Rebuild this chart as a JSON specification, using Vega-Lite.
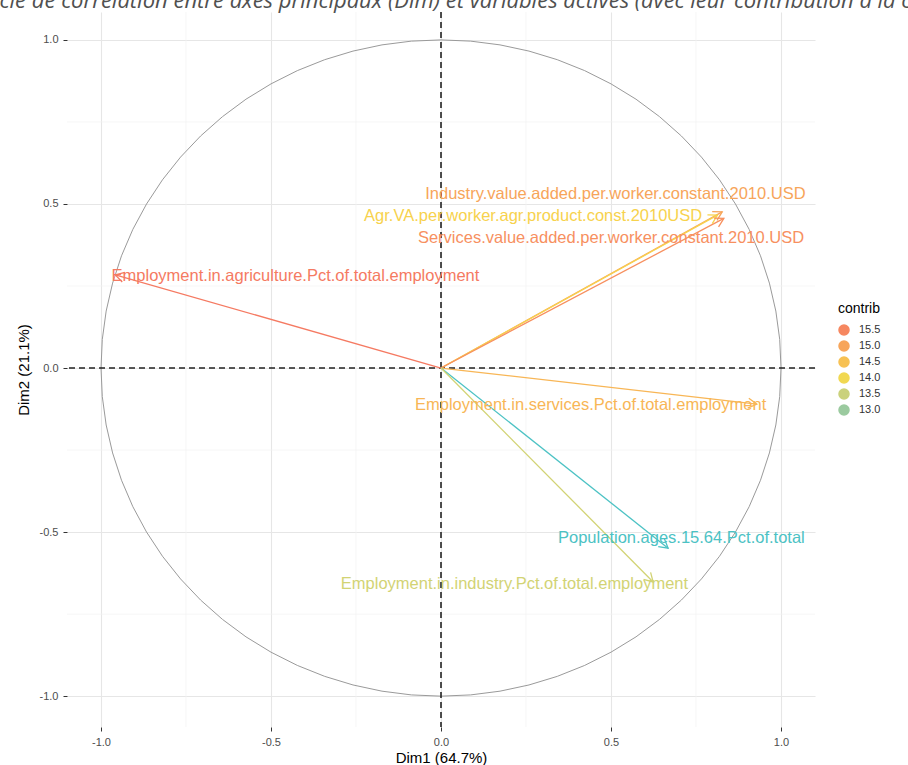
{
  "$schema": "https://vega.github.io/schema/vega-lite/v6.json",
  "width": 748,
  "height": 715,
  "autosize": {"type": "none"},
  "padding": {"left": 67, "top": 12, "right": 93, "bottom": 38},
  "background": "white",
  "config": {
    "font": "Liberation Sans",
    "view": {"stroke": null},
    "axis": {
      "domain": false,
      "tickColor": "#333333",
      "tickSize": 4,
      "tickWidth": 1,
      "labelColor": "#4D4D4D",
      "labelFontSize": 11,
      "labelPadding": 5,
      "titleFontSize": 15,
      "titleFontWeight": "normal",
      "titleColor": "#000000",
      "gridColor": "#E6E6E6",
      "gridWidth": 1.1
    },
    "legend": {
      "titleFontSize": 14,
      "titleFontWeight": "normal",
      "titleColor": "#000000",
      "labelFontSize": 11,
      "labelColor": "#333333"
    }
  },
  "title": {
    "text": "Cercle de corrélation entre axes principaux (Dim) et variables actives (avec leur contribution à la construction des axes)",
    "anchor": "start",
    "frame": "group",
    "orient": "top",
    "offset": -2,
    "dx": -100,
    "font": "Open Sans",
    "fontStyle": "italic",
    "fontWeight": "normal",
    "fontSize": 22,
    "color": "#505050"
  },
  "datasets": {
    "minor": [{"g": -0.75}, {"g": -0.25}, {"g": 0.25}, {"g": 0.75}],
    "zero": [{"v": 0}],
    "circle": [
      {"i": 0, "cx": 1, "cy": 0}, {"i": 1, "cx": 0.9962, "cy": 0.0872}, {"i": 2, "cx": 0.9848, "cy": 0.1736},
      {"i": 3, "cx": 0.9659, "cy": 0.2588}, {"i": 4, "cx": 0.9397, "cy": 0.342}, {"i": 5, "cx": 0.9063, "cy": 0.4226},
      {"i": 6, "cx": 0.866, "cy": 0.5}, {"i": 7, "cx": 0.8192, "cy": 0.5736}, {"i": 8, "cx": 0.766, "cy": 0.6428},
      {"i": 9, "cx": 0.7071, "cy": 0.7071}, {"i": 10, "cx": 0.6428, "cy": 0.766}, {"i": 11, "cx": 0.5736, "cy": 0.8192},
      {"i": 12, "cx": 0.5, "cy": 0.866}, {"i": 13, "cx": 0.4226, "cy": 0.9063}, {"i": 14, "cx": 0.342, "cy": 0.9397},
      {"i": 15, "cx": 0.2588, "cy": 0.9659}, {"i": 16, "cx": 0.1736, "cy": 0.9848}, {"i": 17, "cx": 0.0872, "cy": 0.9962},
      {"i": 18, "cx": 0, "cy": 1}, {"i": 19, "cx": -0.0872, "cy": 0.9962}, {"i": 20, "cx": -0.1736, "cy": 0.9848},
      {"i": 21, "cx": -0.2588, "cy": 0.9659}, {"i": 22, "cx": -0.342, "cy": 0.9397}, {"i": 23, "cx": -0.4226, "cy": 0.9063},
      {"i": 24, "cx": -0.5, "cy": 0.866}, {"i": 25, "cx": -0.5736, "cy": 0.8192}, {"i": 26, "cx": -0.6428, "cy": 0.766},
      {"i": 27, "cx": -0.7071, "cy": 0.7071}, {"i": 28, "cx": -0.766, "cy": 0.6428}, {"i": 29, "cx": -0.8192, "cy": 0.5736},
      {"i": 30, "cx": -0.866, "cy": 0.5}, {"i": 31, "cx": -0.9063, "cy": 0.4226}, {"i": 32, "cx": -0.9397, "cy": 0.342},
      {"i": 33, "cx": -0.9659, "cy": 0.2588}, {"i": 34, "cx": -0.9848, "cy": 0.1736}, {"i": 35, "cx": -0.9962, "cy": 0.0872},
      {"i": 36, "cx": -1, "cy": 0}, {"i": 37, "cx": -0.9962, "cy": -0.0872}, {"i": 38, "cx": -0.9848, "cy": -0.1736},
      {"i": 39, "cx": -0.9659, "cy": -0.2588}, {"i": 40, "cx": -0.9397, "cy": -0.342}, {"i": 41, "cx": -0.9063, "cy": -0.4226},
      {"i": 42, "cx": -0.866, "cy": -0.5}, {"i": 43, "cx": -0.8192, "cy": -0.5736}, {"i": 44, "cx": -0.766, "cy": -0.6428},
      {"i": 45, "cx": -0.7071, "cy": -0.7071}, {"i": 46, "cx": -0.6428, "cy": -0.766}, {"i": 47, "cx": -0.5736, "cy": -0.8192},
      {"i": 48, "cx": -0.5, "cy": -0.866}, {"i": 49, "cx": -0.4226, "cy": -0.9063}, {"i": 50, "cx": -0.342, "cy": -0.9397},
      {"i": 51, "cx": -0.2588, "cy": -0.9659}, {"i": 52, "cx": -0.1736, "cy": -0.9848}, {"i": 53, "cx": -0.0872, "cy": -0.9962},
      {"i": 54, "cx": 0, "cy": -1}, {"i": 55, "cx": 0.0872, "cy": -0.9962}, {"i": 56, "cx": 0.1736, "cy": -0.9848},
      {"i": 57, "cx": 0.2588, "cy": -0.9659}, {"i": 58, "cx": 0.342, "cy": -0.9397}, {"i": 59, "cx": 0.4226, "cy": -0.9063},
      {"i": 60, "cx": 0.5, "cy": -0.866}, {"i": 61, "cx": 0.5736, "cy": -0.8192}, {"i": 62, "cx": 0.6428, "cy": -0.766},
      {"i": 63, "cx": 0.7071, "cy": -0.7071}, {"i": 64, "cx": 0.766, "cy": -0.6428}, {"i": 65, "cx": 0.8192, "cy": -0.5736},
      {"i": 66, "cx": 0.866, "cy": -0.5}, {"i": 67, "cx": 0.9063, "cy": -0.4226}, {"i": 68, "cx": 0.9397, "cy": -0.342},
      {"i": 69, "cx": 0.9659, "cy": -0.2588}, {"i": 70, "cx": 0.9848, "cy": -0.1736}, {"i": 71, "cx": 0.9962, "cy": -0.0872},
      {"i": 72, "cx": 1, "cy": 0}
    ],
    "vars": [
      {"name": "Employment.in.agriculture.Pct.of.total.employment", "x": -0.958, "y": 0.284, "contrib": 15.7, "lx": -0.428, "ly": 0.28},
      {"name": "Industry.value.added.per.worker.constant.2010.USD", "x": 0.827, "y": 0.476, "contrib": 15.0, "lx": 0.513, "ly": 0.53},
      {"name": "Agr.VA.per.worker.agr.product.const.2010USD", "x": 0.813, "y": 0.466, "contrib": 14.2, "lx": 0.271, "ly": 0.463},
      {"name": "Services.value.added.per.worker.constant.2010.USD", "x": 0.832, "y": 0.456, "contrib": 15.35, "lx": 0.5, "ly": 0.396},
      {"name": "Employment.in.services.Pct.of.total.employment", "x": 0.929, "y": -0.11, "contrib": 14.7, "lx": 0.44, "ly": -0.113},
      {"name": "Population.ages.15.64.Pct.of.total", "x": 0.668, "y": -0.549, "contrib": 12.45, "lx": 0.707, "ly": -0.518},
      {"name": "Employment.in.industry.Pct.of.total.employment", "x": 0.624, "y": -0.652, "contrib": 13.6, "lx": 0.216, "ly": -0.659}
    ]
  },
  "layer": [
    {
      "data": {"name": "minor"},
      "mark": {"type": "rule", "color": "#F2F2F2", "strokeWidth": 0.7},
      "encoding": {
        "x": {"field": "g", "type": "quantitative", "scale": {"domain": [-1.1, 1.1], "nice": false, "zero": false},
              "axis": {"values": [-1, -0.5, 0, 0.5, 1], "format": ".1f", "labelExpr": "replace(datum.label, '\u2212', '-')", "title": "Dim1 (64.7%)", "titlePadding": 3}}
      }
    },
    {
      "data": {"name": "minor"},
      "mark": {"type": "rule", "color": "#F2F2F2", "strokeWidth": 0.7},
      "encoding": {
        "y": {"field": "g", "type": "quantitative", "scale": {"domain": [-1.094, 1.085], "nice": false, "zero": false},
              "axis": {"values": [-1, -0.5, 0, 0.5, 1], "format": ".1f", "labelExpr": "replace(datum.label, '\u2212', '-')", "title": "Dim2 (21.1%)", "titlePadding": 8}}
      }
    },
    {
      "data": {"name": "circle"},
      "mark": {"type": "line", "color": "#9A9A9A", "strokeWidth": 1},
      "encoding": {
        "x": {"field": "cx", "type": "quantitative", "scale": {"domain": [-1.1, 1.1], "nice": false, "zero": false}},
        "y": {"field": "cy", "type": "quantitative", "scale": {"domain": [-1.094, 1.085], "nice": false, "zero": false}},
        "order": {"field": "i", "type": "quantitative"}
      }
    },
    {
      "data": {"name": "zero"},
      "mark": {"type": "rule", "color": "#222222", "strokeWidth": 1.6, "strokeDash": [6, 4]},
      "encoding": {
        "x": {"field": "v", "type": "quantitative", "scale": {"domain": [-1.1, 1.1], "nice": false, "zero": false}}
      }
    },
    {
      "data": {"name": "zero"},
      "mark": {"type": "rule", "color": "#222222", "strokeWidth": 1.6, "strokeDash": [6, 4]},
      "encoding": {
        "y": {"field": "v", "type": "quantitative", "scale": {"domain": [-1.094, 1.085], "nice": false, "zero": false}}
      }
    },
    {
      "data": {"name": "vars"},
      "mark": {"type": "rule", "strokeWidth": 1.3},
      "encoding": {
        "x": {"field": "x", "type": "quantitative", "scale": {"domain": [-1.1, 1.1], "nice": false, "zero": false}},
        "y": {"field": "y", "type": "quantitative", "scale": {"domain": [-1.094, 1.085], "nice": false, "zero": false}},
        "x2": {"datum": 0},
        "y2": {"datum": 0},
        "color": {
          "field": "contrib", "type": "quantitative",
          "scale": {"domain": [12.45, 15.7], "domainMid": 14.07, "range": ["#4CC2C4", "#F6D94A", "#F57A62"], "interpolate": "lab"},
          "legend": {"title": "contrib", "orient": "none", "legendX": 771, "legendY": 290,
                     "values": [15.5, 15, 14.5, 14, 13.5, 13], "format": ".1f",
                     "symbolType": "square", "symbolSize": 420, "symbolStrokeWidth": 0, "symbolOpacity": 1,
                     "rowPadding": 0, "labelOffset": 9, "titlePadding": 8}
        }
      }
    },
    {
      "data": {"name": "vars"},
      "transform": [{"calculate": "-atan2(datum.y * 328, datum.x * 340) * 180 / PI", "as": "ang"}],
      "mark": {"type": "point", "shape": "M-1,-0.577L0,0L-1,0.577", "size": 300, "filled": false, "strokeWidth": 1.3, "opacity": 1},
      "encoding": {
        "x": {"field": "x", "type": "quantitative", "scale": {"domain": [-1.1, 1.1], "nice": false, "zero": false}},
        "y": {"field": "y", "type": "quantitative", "scale": {"domain": [-1.094, 1.085], "nice": false, "zero": false}},
        "angle": {"field": "ang", "type": "quantitative", "scale": null},
        "stroke": {
          "field": "contrib", "type": "quantitative",
          "scale": {"domain": [12.45, 15.7], "domainMid": 14.07, "range": ["#4CC2C4", "#F6D94A", "#F57A62"], "interpolate": "lab"},
          "legend": null
        }
      }
    },
    {
      "data": {"name": "vars"},
      "mark": {"type": "text", "fontSize": 16.5, "align": "center", "baseline": "middle"},
      "encoding": {
        "x": {"field": "lx", "type": "quantitative", "scale": {"domain": [-1.1, 1.1], "nice": false, "zero": false}},
        "y": {"field": "ly", "type": "quantitative", "scale": {"domain": [-1.094, 1.085], "nice": false, "zero": false}},
        "text": {"field": "name"},
        "fill": {
          "field": "contrib", "type": "quantitative",
          "scale": {"domain": [12.45, 15.7], "domainMid": 14.07, "range": ["#4CC2C4", "#F6D94A", "#F57A62"], "interpolate": "lab"},
          "legend": null
        }
      }
    }
  ]
}
